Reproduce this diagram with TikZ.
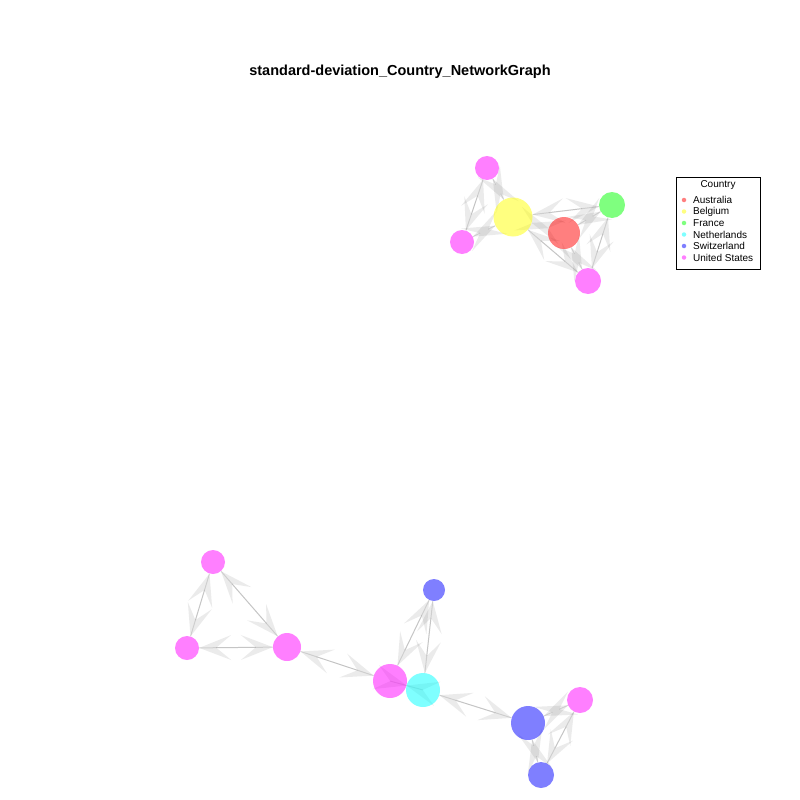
\documentclass[tikz,border=0pt]{standalone}
\usepackage{fontspec}
\setmainfont{Liberation Sans}
\usetikzlibrary{arrows.meta,backgrounds}
\definecolor{cAU}{RGB}{255,0,0}
\definecolor{cBE}{RGB}{255,255,0}
\definecolor{cFR}{RGB}{0,255,0}
\definecolor{cNL}{RGB}{0,255,255}
\definecolor{cCH}{RGB}{0,0,255}
\definecolor{cUS}{RGB}{255,0,255}
\tikzset{
  vtx/.style={circle, inner sep=0pt, minimum size=#1, fill opacity=0.5, draw=none},
  au/.style={fill=cAU}, be/.style={fill=cBE}, fr/.style={fill=cFR},
  nl/.style={fill=cNL}, ch/.style={fill=cCH}, us/.style={fill=cUS},
  edge/.style={draw=black, draw opacity=0.12, fill opacity=0.08, line width=1pt,
    -{Stealth[length=32pt, width=25pt, inset=15pt, color=black!30, fill=black, line width=0pt]}},
  legdot/.style={circle, inner sep=0pt, minimum size=4.5pt, fill opacity=0.5, draw=none},
  legtxt/.style={anchor=west, inner sep=0pt, font=\fontsize{10}{12}\selectfont}
}
\begin{document}
\begin{tikzpicture}[x=1pt, y=-1pt]
\useasboundingbox (0,0) rectangle (800,800);
% title
\node[font=\fontsize{14.5}{17}\selectfont\bfseries] (title) at (400,72) {standard-deviation\_Country\_NetworkGraph};

% top cluster nodes
\node[vtx=24pt, us] (t1) at (487,168) {};
\node[vtx=39pt, be] (t2) at (513,217) {};
\node[vtx=24pt, us] (t3) at (462,242) {};
\node[vtx=32pt, au] (t4) at (564,233) {};
\node[vtx=26pt, fr] (t5) at (612,205) {};
\node[vtx=26pt, us] (t6) at (588,281) {};

% bottom cluster nodes
\node[vtx=24pt, us] (b1) at (213,562) {};
\node[vtx=24pt, us] (b2) at (187,648) {};
\node[vtx=28pt, us] (b3) at (287,647) {};
\node[vtx=34pt, us] (b4) at (390,681) {};
\node[vtx=34pt, nl] (b5) at (423,690) {};
\node[vtx=22pt, ch] (b6) at (434,590) {};
\node[vtx=34pt, ch] (b7) at (528,723) {};
\node[vtx=26pt, us] (b8) at (580,700) {};
\node[vtx=26pt, ch] (b9) at (541,775) {};

% edges behind the nodes
\begin{scope}[on background layer]
\foreach \a/\b in {t1/t3,t3/t1,t1/t2,t2/t1,t3/t2,t2/t3,t2/t4,t4/t2,t2/t5,t5/t2,t2/t6,t6/t2,t4/t5,t5/t4,t4/t6,t6/t4,t5/t6,t6/t5,
  b1/b2,b2/b1,b1/b3,b3/b1,b2/b3,b3/b2,b3/b4,b4/b3,b4/b6,b6/b4,b5/b6,b6/b5,b4/b5,b5/b4,b5/b7,b7/b5,b7/b8,b8/b7,b7/b9,b9/b7,b8/b9,b9/b8}
  \draw[edge] (\a) -- (\b);
\end{scope}

% legend
\node[draw=black, line width=0.6pt, minimum width=84pt, minimum height=92pt, inner sep=0pt] (legbox) at (718,223) {};
\node[font=\fontsize{10}{12}\selectfont, inner sep=0pt] (legtitle) at (718,185) {Country};
\node[legdot, fill=cAU] (d1) at (684,200) {};
\node[legdot, fill=cBE] (d2) at (684,211.5) {};
\node[legdot, fill=cFR] (d3) at (684,223) {};
\node[legdot, fill=cNL] (d4) at (684,234.5) {};
\node[legdot, fill=cCH] (d5) at (684,246) {};
\node[legdot, fill=cUS] (d6) at (684,257.5) {};
\node[legtxt] (l1) at (693,200) {Australia};
\node[legtxt] (l2) at (693,211.5) {Belgium};
\node[legtxt] (l3) at (693,223) {France};
\node[legtxt] (l4) at (693,234.5) {Netherlands};
\node[legtxt] (l5) at (693,246) {Switzerland};
\node[legtxt] (l6) at (693,257.5) {United States};
\end{tikzpicture}
\end{document}
